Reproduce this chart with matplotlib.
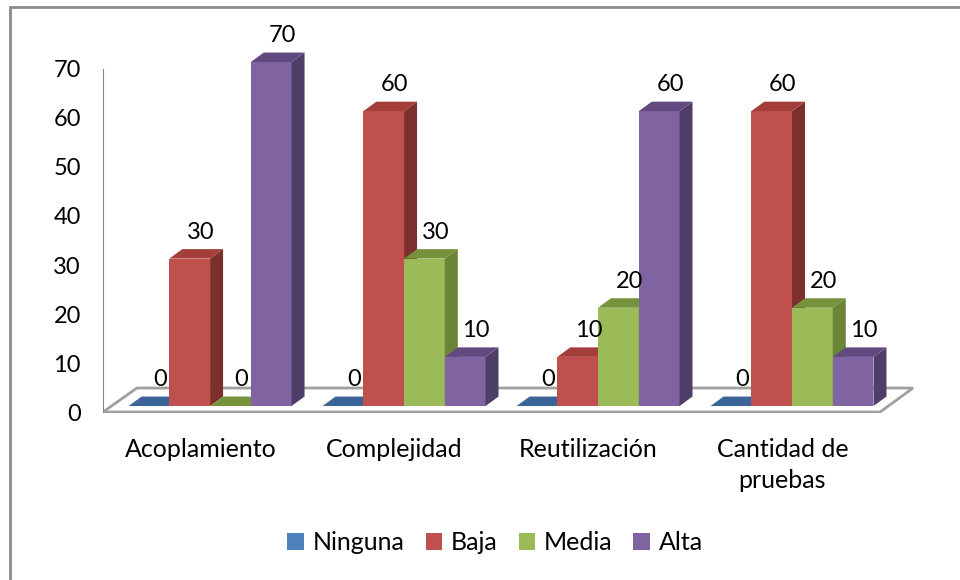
import matplotlib.pyplot as plt
import matplotlib.transforms as mtransforms
from matplotlib.patches import Polygon, Rectangle, Patch

# Datos del gráfico
categorias = ['Acoplamiento', 'Complejidad', 'Reutilización', 'Cantidad de\npruebas']
series = ['Ninguna', 'Baja', 'Media', 'Alta']
ninguna = [0, 0, 0, 0]
baja = [30, 60, 10, 60]
media = [0, 30, 20, 20]
alta = [70, 10, 60, 10]
valores = [ninguna, baja, media, alta]

# Colores: frente, lateral, superior
frente = ['#4f81bd', '#c0504d', '#9bbb59', '#8064a2']
lateral = ['#2c4d75', '#7d2f2d', '#6a8536', '#4f3f68']
superior = ['#3b6597', '#a43e3b', '#76923c', '#62497f']

plt.rcParams['font.family'] = ['Lato', 'DejaVu Sans']
tam = 17      # números
tam_txt = 18  # categorías y leyenda

fig = plt.figure(figsize=(9.6, 5.8), dpi=100)
ax = fig.add_axes([103 / 960, 1 - 413 / 580, 812 / 960, 393 / 580])
ax.set_xlim(-0.552, 3.634)
ax.set_ylim(-1.42, 78.55)

ancho = 0.21
# profundidad de las barras en unidades de datos
px = 0.067
py = 1.93

# Piso del gráfico
piso = Polygon([(-0.552, -1.22), (-0.377, 3.66), (3.624, 3.66), (3.454, -1.22)],
               closed=True, facecolor='white', edgecolor='#a0a0a0', lw=2, zorder=1)
ax.add_patch(piso)

z = 2
for i in range(len(categorias)):
    for j in range(len(series)):
        v = valores[j][i]
        x0 = i + (j - 1.5) * ancho - ancho / 2
        x1 = x0 + ancho
        if v > 0:
            ax.bar(x0, v, width=ancho, align='edge', color=frente[j], zorder=z)
            ax.add_patch(Polygon([(x1, 0), (x1 + px, py), (x1 + px, v + py), (x1, v)],
                                 closed=True, facecolor=lateral[j], edgecolor='none', zorder=z))
        ax.add_patch(Polygon([(x0, v), (x0 + px, v + py), (x1 + px, v + py), (x1, v)],
                             closed=True, facecolor=superior[j], edgecolor='none', zorder=z))
        ax.annotate(str(v), xy=((x0 + x1) / 2, v), xytext=(11, 16), textcoords='offset pixels',
                    ha='center', va='bottom', fontsize=tam, color='black', zorder=20,
                    annotation_clip=False)
        z += 1

# Ejes
for s in ['top', 'right', 'bottom']:
    ax.spines[s].set_visible(False)
ax.spines['left'].set_color('#868686')
ax.spines['left'].set_bounds(-1.22, 68.6)
ax.set_yticks(range(0, 80, 10))
ax.tick_params(axis='y', length=0, pad=16, labelsize=tam)
desplazar = mtransforms.ScaledTranslation(0, -6.5 / 100, fig.dpi_scale_trans)
for lbl in ax.get_yticklabels():
    lbl.set_transform(lbl.get_transform() + desplazar)

ax.set_xticks([i - 0.05 for i in range(len(categorias))])
ax.set_xticklabels(categorias, fontsize=tam_txt, linespacing=1.4)
ax.tick_params(axis='x', length=0, pad=18)

# Leyenda
handles = [Patch(facecolor=c, edgecolor='none') for c in frente]
fig.legend(handles, series, loc='center', bbox_to_anchor=(495 / 960, 1 - 543 / 580), ncol=4,
           frameon=False, fontsize=tam_txt, handlelength=0.65, handleheight=0.65,
           handletextpad=0.35, columnspacing=0.85)

# Borde exterior
fig.patches.append(Rectangle((10 / 960, -0.02), 1.0, 1.02 - 7 / 580, transform=fig.transFigure,
                             fill=False, edgecolor='#8c8c8c', lw=2))

fig.savefig('out.png', dpi=100)
